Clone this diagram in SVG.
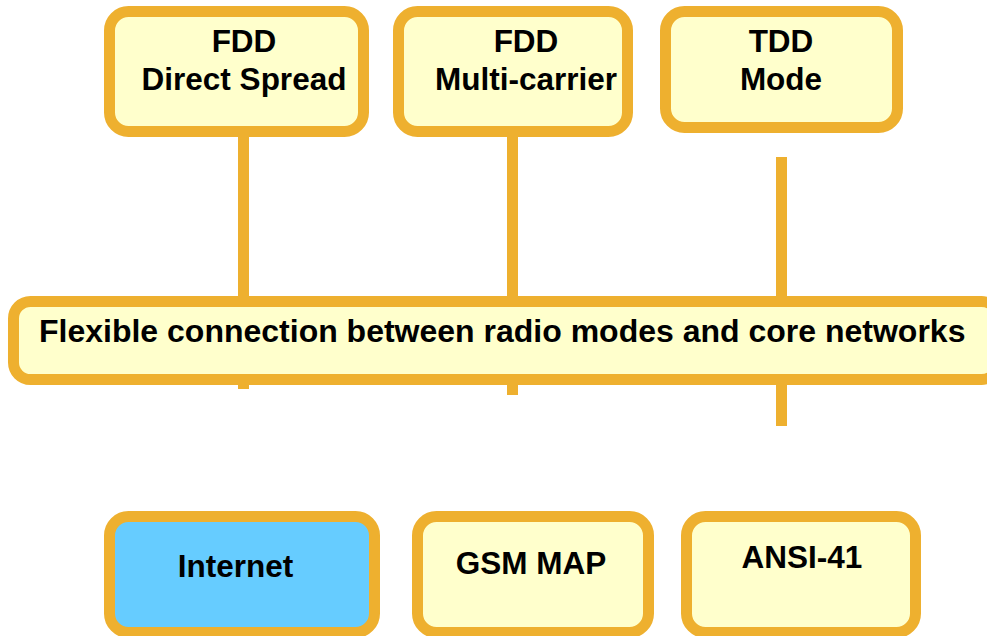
<svg xmlns="http://www.w3.org/2000/svg" width="987" height="636" viewBox="0 0 987 636">
  <style>
    .box { fill: #FFFFCC; stroke: #EEB02F; stroke-width: 11; }
    .blue { fill: #66CCFF; }
    .link { stroke: #EEB02F; stroke-width: 11; fill: none; }
    .lbl { font-family: "Liberation Sans", Arial, sans-serif; font-weight: bold; font-size: 31.5px; fill: #000; text-anchor: middle; }
    .wide { font-size: 32px; text-anchor: start; }
  </style>
  <rect width="987" height="636" fill="#FFFFFF"/>

  <!-- vertical links from the radio modes through the connection layer -->
  <g id="connectors">
    <line class="link" x1="243.5" y1="135" x2="243.5" y2="389"/>
    <line class="link" x1="512.5" y1="135" x2="512.5" y2="395"/>
    <line class="link" x1="781.5" y1="157" x2="781.5" y2="426"/>
  </g>

  <g id="fdd-direct-spread">
    <rect class="box" x="109.5" y="11.5" width="254" height="120" rx="19"/>
    <text class="lbl" x="244" y="52">FDD</text>
    <text class="lbl" x="244" y="90">Direct Spread</text>
  </g>

  <g id="fdd-multi-carrier">
    <rect class="box" x="398.5" y="11.5" width="229" height="120" rx="19"/>
    <text class="lbl" x="526" y="52">FDD</text>
    <text class="lbl" x="526" y="90">Multi-carrier</text>
  </g>

  <g id="tdd-mode">
    <rect class="box" x="665.5" y="11.5" width="232" height="116" rx="19"/>
    <text class="lbl" x="781" y="52">TDD</text>
    <text class="lbl" x="781" y="90">Mode</text>
  </g>

  <g id="flexible-connection">
    <rect class="box" x="13.5" y="301.5" width="985" height="78" rx="17"/>
    <text class="lbl wide" x="39" y="342">Flexible connection between radio modes and core networks</text>
  </g>

  <g id="internet">
    <rect class="box blue" x="109.5" y="516.5" width="265" height="116" rx="19"/>
    <text class="lbl" x="235.5" y="577">Internet</text>
  </g>

  <g id="gsm-map">
    <rect class="box" x="417.5" y="516.5" width="231" height="116" rx="19"/>
    <text class="lbl" x="531" y="574">GSM MAP</text>
  </g>

  <g id="ansi-41">
    <rect class="box" x="686.5" y="516.5" width="229" height="116" rx="19"/>
    <text class="lbl" x="802" y="568">ANSI-41</text>
  </g>
</svg>
